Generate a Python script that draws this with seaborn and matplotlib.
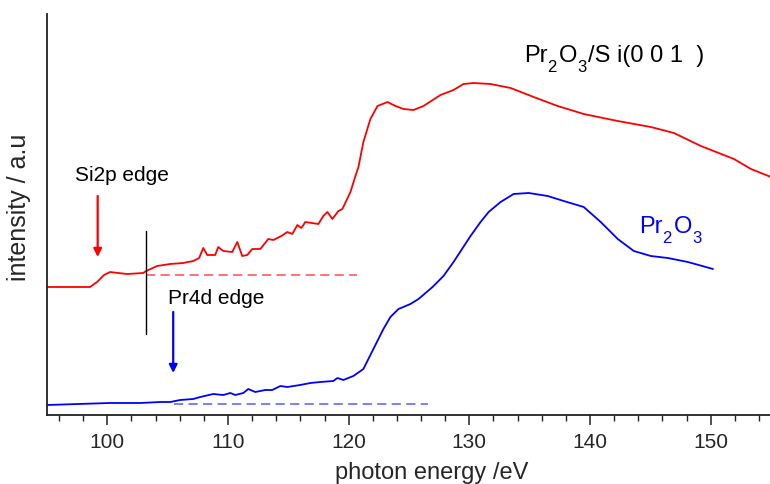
import numpy as np
import pandas as pd
import matplotlib
matplotlib.use("Agg")
import matplotlib.pyplot as plt
import matplotlib.transforms as mtransforms
import seaborn as sns

# ---- data ----
red_energy = [95.0, 98.57, 99.15, 99.73, 100.23, 100.89, 101.64, 102.97, 103.22, 104.13,
              105.21, 106.29, 107.12, 107.61, 107.95, 108.28, 108.94, 109.19, 109.61, 110.35,
              110.77, 111.18, 111.60, 112.01, 112.68, 113.34, 113.76, 114.42, 114.92, 115.33,
              115.75, 116.08, 116.41, 117.49, 117.90, 118.24, 118.65, 119.15, 119.48, 120.15,
              120.56, 120.81, 121.22, 121.80, 122.39, 123.22, 123.88, 124.54, 125.37, 126.20,
              127.61, 128.69, 129.52, 130.35, 131.76, 133.42, 135.33, 137.32, 139.48, 142.30,
              145.04, 146.95, 149.19, 151.93, 153.34, 155.0]
red_intensity = [128, 128, 133, 140, 143, 142, 141, 142, 144, 149,
                 151, 152, 154, 157, 167, 160, 160, 168, 164, 163,
                 173, 159, 160, 166, 166, 176, 175, 179, 183, 181,
                 190, 187, 193, 191, 199, 203, 196, 204, 206, 223,
                 239, 248, 273, 296, 309, 313, 309, 306, 305, 309,
                 320, 325, 331, 332, 331, 327, 318, 309, 301, 294,
                 288, 282, 269, 256, 246, 238]

blue_energy = [95.0, 100.23, 102.72, 104.38, 105.21, 106.04, 107.12, 107.70, 108.78, 109.61,
               110.19, 110.60, 111.27, 111.68, 112.26, 113.09, 113.67, 114.34, 114.92, 115.98,
               116.83, 117.66, 118.73, 119.07, 119.56, 120.39, 121.22, 122.05, 122.88, 123.46,
               124.13, 125.12, 125.79, 126.95, 127.86, 128.69, 130.10, 130.93, 131.60, 132.59,
               133.67, 134.92, 136.49, 137.82, 139.48, 140.89, 142.30, 143.63, 145.04, 146.45,
               148.11, 150.19]
blue_intensity = [10, 12, 12, 13, 13, 15, 16, 18, 21, 20,
                  22, 20, 22, 26, 23, 25, 25, 29, 28, 30,
                  32, 33, 34, 37, 35, 39, 46, 66, 86, 98,
                  106, 111, 116, 128, 139, 153, 179, 193, 203, 213,
                  221, 222, 219, 214, 208, 193, 176, 164, 159, 157,
                  153, 146]

red_baseline_energy = [103.2, 120.7]
red_baseline_intensity = [140, 140]
blue_baseline_energy = [105.5, 126.6]
blue_baseline_intensity = [11, 11]

x_ticks = [100, 110, 120, 130, 140, 150]

# ---- style ----
sns.set_style("ticks")
plt.rcParams['font.family'] = ['Liberation Sans', 'DejaVu Sans']

DPI = 100
fig = plt.figure(figsize=(7.7, 4.85), dpi=DPI)
ax = fig.add_axes([47 / 770, 69 / 485, 724 / 770, 401 / 485])

red_df = pd.DataFrame({"energy": red_energy, "intensity": red_intensity})
blue_df = pd.DataFrame({"energy": blue_energy, "intensity": blue_intensity})

sns.lineplot(data=red_df, x="energy", y="intensity", color="#ff0000", lw=1.3, ax=ax,
             sort=False, estimator=None)
sns.lineplot(data=blue_df, x="energy", y="intensity", color="#0000ff", lw=1.3, ax=ax,
             sort=False, estimator=None)

ax.plot(red_baseline_energy, red_baseline_intensity, color="#ff4a4a", lw=1.1,
        linestyle=(0, (6, 3.5)))
ax.plot(blue_baseline_energy, blue_baseline_intensity, color="#5a5aff", lw=1.1,
        linestyle=(0, (6, 3.5)))

# black vertical marker
ax.plot([103.2, 103.2], [81, 184], color="black", lw=1.0)

# arrows
ax.annotate("", xy=(99.2, 158), xytext=(99.2, 219),
            arrowprops=dict(arrowstyle="-|>", color="#ff0000", lw=1.6, mutation_scale=12,
                            shrinkA=0, shrinkB=0))
ax.annotate("", xy=(105.46, 42), xytext=(105.46, 103),
            arrowprops=dict(arrowstyle="-|>", color="#0000ff", lw=1.6, mutation_scale=12,
                            shrinkA=0, shrinkB=0))

ax.text(97.3, 241, "Si2p edge", fontsize=15, ha="left", va="center", color="black")
ax.text(105.04, 117, "Pr4d edge", fontsize=15, ha="left", va="center", color="black")

renderer = fig.canvas.get_renderer()


def seq_text(x, y, pieces, color):
    """Place text pieces one after another (for large, lowered subscripts)."""
    off = 0.0
    for s, size, dy in pieces:
        tr = mtransforms.offset_copy(ax.transData, fig=fig, x=off, y=dy * DPI / 72.0,
                                     units="dots")
        t = ax.text(x, y, s, fontsize=size, ha="left", va="baseline", color=color,
                    transform=tr)
        off += t.get_window_extent(renderer).width
        if dy != 0:
            off += 2.0


seq_text(134.5, 354, [("Pr", 17, 0), ("2", 12, -7), ("O", 17, 0), ("3", 12, -7),
                      ("/S i(0 0 1  )", 17, 0)], "black")
seq_text(144.05, 183, [("Pr", 17, 0), ("2", 12, -7), ("O", 17, 0), ("3", 12, -7)],
         "#0000ff")

ax.set_xlim(95, 155)
ax.set_ylim(0, 401)
ax.set_xticks(x_ticks)
ax.set_xticks(np.arange(96, 155, 2), minor=True)
ax.set_yticks([])
ax.tick_params(axis="x", which="major", length=7, width=1.1, labelsize=15, direction="out",
               color="#222222", pad=5)
ax.tick_params(axis="x", which="minor", length=4, width=1.0, direction="out", color="#222222")
for s in ["top", "right"]:
    ax.spines[s].set_visible(False)
for s in ["left", "bottom"]:
    ax.spines[s].set_linewidth(1.3)
    ax.spines[s].set_color("#222222")

ax.set_xlabel("photon energy /eV", fontsize=17, labelpad=4)
ax.xaxis.set_label_coords(0.531, -0.115)
ax.set_ylabel("intensity / a.u", fontsize=18, labelpad=8)
ax.yaxis.set_label_coords(-0.022, 0.52)

fig.savefig("out.png", dpi=DPI)
